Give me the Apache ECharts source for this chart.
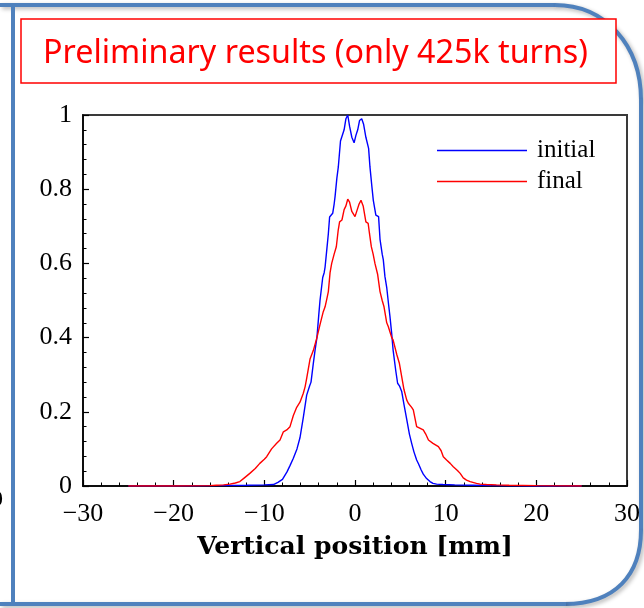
<!DOCTYPE html>
<html><head><meta charset="utf-8">
<script src="https://cdn.jsdelivr.net/npm/echarts/dist/echarts.min.js"></script>
<style>html,body{margin:0;padding:0;background:#fff}#c{width:644px;height:608px}</style>
</head><body><div id="c"></div>
<script>
const titleText = 'Preliminary results (only 425k turns)';
const xAxisName = 'Vertical position [mm]';
const xTickLabels = ['\u221230', '\u221220', '\u221210', '0', '10', '20', '30'];
const yTickLabels = ['0', '0.2', '0.4', '0.6', '0.8', '1'];
const seriesNames = ['initial', 'final'];

const initialX = [-25,-20,-15,-12,-10,-9,-8.5,-8,-7.5,-7.17,-6.8,-6.4,-6.07,-5.7,-5.33,-5.0,-4.85,-4.6,-4.4,-4.2,-4.0,-3.86,-3.56,-3.4,-3.3,-3.1,-2.94,-2.8,-2.6,-2.46,-2.3,-2.2,-2.0,-1.84,-1.6,-1.45,-1.2,-1.0,-0.8,-0.6,-0.35,-0.1,0.1,0.3,0.5,0.74,0.95,1.2,1.36,1.5,1.65,1.85,2.02,2.3,2.6,2.76,3.0,3.12,3.3,3.5,3.7,3.86,4.05,4.2,4.5,4.7,4.9,5.15,5.4,5.7,6.0,6.25,6.5,6.8,7.0,7.3,7.53,7.9,8.27,8.6,9.0,9.7,11,13,15,20,25];
const initialY = [0,0,0.001,0.002,0.003,0.004,0.01,0.018,0.038,0.055,0.075,0.1,0.13,0.185,0.245,0.27,0.28,0.33,0.367,0.4,0.46,0.5,0.562,0.575,0.59,0.64,0.68,0.725,0.728,0.735,0.76,0.78,0.83,0.86,0.93,0.935,0.96,0.99,1.0,0.97,0.94,0.925,0.945,0.96,0.985,0.99,0.975,0.94,0.935,0.91,0.86,0.81,0.77,0.73,0.726,0.665,0.625,0.61,0.565,0.535,0.49,0.456,0.41,0.367,0.31,0.277,0.27,0.255,0.22,0.18,0.14,0.115,0.092,0.07,0.06,0.043,0.032,0.02,0.012,0.007,0.005,0.004,0.003,0.002,0.001,0,0];

const finalX = [-25,-20,-16,-15.3,-14.5,-13.8,-13.2,-12.7,-12.2,-11.6,-11.0,-10.5,-10.0,-9.74,-9.2,-8.64,-8.27,-7.9,-7.53,-7.17,-6.8,-6.43,-6.07,-5.7,-5.5,-5.33,-4.96,-4.6,-4.2,-3.86,-3.5,-3.3,-3.1,-2.94,-2.75,-2.57,-2.3,-2.06,-1.85,-1.7,-1.44,-1.2,-1.0,-0.8,-0.6,-0.35,0.0,0.25,0.45,0.66,0.9,1.2,1.45,1.6,1.8,2.0,2.2,2.5,2.76,3.0,3.2,3.5,3.67,4.05,4.2,4.6,4.9,5.15,5.4,5.7,5.88,6.25,6.43,6.8,6.98,7.53,7.8,8.1,8.6,9.2,9.5,9.74,10.1,10.5,10.84,11.3,11.6,11.94,12.3,12.7,13.4,13.8,14.5,15.6,17,20,25];
const finalY = [0,0,0.001,0.002,0.003,0.005,0.008,0.012,0.022,0.034,0.047,0.061,0.072,0.079,0.1,0.115,0.124,0.146,0.151,0.16,0.19,0.212,0.226,0.25,0.268,0.29,0.342,0.365,0.4,0.435,0.47,0.483,0.505,0.524,0.575,0.6,0.625,0.645,0.69,0.712,0.717,0.745,0.755,0.773,0.765,0.74,0.726,0.745,0.76,0.77,0.755,0.712,0.708,0.68,0.645,0.625,0.6,0.57,0.524,0.5,0.483,0.44,0.43,0.4,0.394,0.355,0.33,0.295,0.26,0.232,0.223,0.212,0.205,0.16,0.158,0.151,0.14,0.124,0.115,0.106,0.095,0.079,0.07,0.061,0.052,0.042,0.034,0.022,0.016,0.012,0.007,0.005,0.004,0.003,0.002,0.001,0];

function zip(xs, ys) { return xs.map((x, i) => [x, ys[i]]); }
function measure(text, font) {
  const ctx = document.createElement('canvas').getContext('2d');
  ctx.font = font; return ctx.measureText(text).width;
}
const titleFont = '32px "Noto Sans"';
const titleScale = 545 / measure(titleText, titleFont);

const frameStyle = {fill: 'none', stroke: '#4f81bd', lineWidth: 4, shadowBlur: 4, shadowColor: 'rgba(0,0,0,0.3)', shadowOffsetX: 2, shadowOffsetY: 2};

const chart = echarts.init(document.getElementById('c'), null, {renderer: 'canvas'});
chart.setOption({
  animation: false,
  backgroundColor: '#ffffff',
  grid: {left: 83, top: 115, right: 17, bottom: 122, show: true, borderColor: '#3a3a3a', borderWidth: 2, containLabel: false},
  xAxis: {
    type: 'value', min: -30, max: 30, interval: 10,
    name: xAxisName, nameLocation: 'middle', nameGap: 49,
    nameTextStyle: {fontFamily: 'DejaVu Serif', fontWeight: 'bold', fontSize: 25, color: '#000'},
    axisLine: {show: true, onZero: false, lineStyle: {color: '#000', width: 1.5}},
    axisTick: {show: true, inside: true, length: 6, lineStyle: {color: '#000', width: 1.2}},
    minorTick: {show: true, splitNumber: 5, length: 3.5, lineStyle: {color: '#000', width: 1}},
    splitLine: {show: false},
    axisLabel: {margin: 15, fontFamily: 'Liberation Serif', fontSize: 26, color: '#000',
      formatter: v => xTickLabels[Math.round((v + 30) / 10)]}
  },
  yAxis: {
    type: 'value', min: 0, max: 1, interval: 0.2,
    axisLine: {show: true, onZero: false, lineStyle: {color: '#000', width: 1.5}},
    axisTick: {show: true, inside: true, length: 6, lineStyle: {color: '#000', width: 1.2}},
    minorTick: {show: true, splitNumber: 5, length: 3.5, lineStyle: {color: '#000', width: 1}},
    splitLine: {show: false},
    axisLabel: {margin: 11, fontFamily: 'Liberation Serif', fontSize: 26, color: '#000',
      formatter: v => yTickLabels[Math.round(v / 0.2)]}
  },
  legend: {
    data: seriesNames, orient: 'vertical', left: 437, top: 135, padding: 0,
    icon: 'rect', itemWidth: 90, itemHeight: 1.6, itemGap: 0,
    textStyle: {fontFamily: 'Liberation Serif', fontSize: 25, lineHeight: 31, color: '#000', padding: [0, 0, 0, 5]}
  },
  series: [
    {name: seriesNames[0], type: 'line', data: zip(initialX, initialY), symbol: 'none', showSymbol: false,
      lineStyle: {color: '#0000ff', width: 1.4}, itemStyle: {color: '#0000ff'}, z: 3},
    {name: seriesNames[1], type: 'line', data: zip(finalX, finalY), symbol: 'none', showSymbol: false,
      lineStyle: {color: '#ff0000', width: 1.4}, itemStyle: {color: '#ff0000'}, z: 4}
  ],
  graphic: [
    {type: 'line', z: 100, shape: {x1: 0, y1: 5, x2: 556, y2: 5}, style: frameStyle},
    {type: 'bezierCurve', z: 100, shape: {x1: 555, y1: 5, cpx1: 605, cpy1: 5, cpx2: 641, cpy2: 45, x2: 641, y2: 100}, style: frameStyle},
    {type: 'line', z: 100, shape: {x1: 641, y1: 99, x2: 641, y2: 531}, style: frameStyle},
    {type: 'bezierCurve', z: 100, shape: {x1: 641, y1: 530, cpx1: 641, cpy1: 575, cpx2: 615, cpy2: 604, x2: 565, y2: 604}, style: frameStyle},
    {type: 'line', z: 100, shape: {x1: 566, y1: 604, x2: 0, y2: 604}, style: frameStyle},
    {type: 'line', z: 100, shape: {x1: 13, y1: 3, x2: 13, y2: 606}, style: {stroke: '#4f81bd', lineWidth: 4}},
    {type: 'rect', z: 101, shape: {x: 21, y: 19, width: 595, height: 64},
      style: {fill: '#ffffff', stroke: '#ff0000', lineWidth: 1.5}},
    {type: 'text', z: 102, x: 315.5, y: 54, scaleX: titleScale,
      style: {text: titleText, font: titleFont, fill: '#ff0000', align: 'center', verticalAlign: 'middle'}},
    {type: 'text', z: 102, x: -9, y: 500,
      style: {text: '0', font: '24px "Liberation Serif"', fill: '#000', align: 'left', verticalAlign: 'middle'}}
  ]
});
</script>
</body></html>
